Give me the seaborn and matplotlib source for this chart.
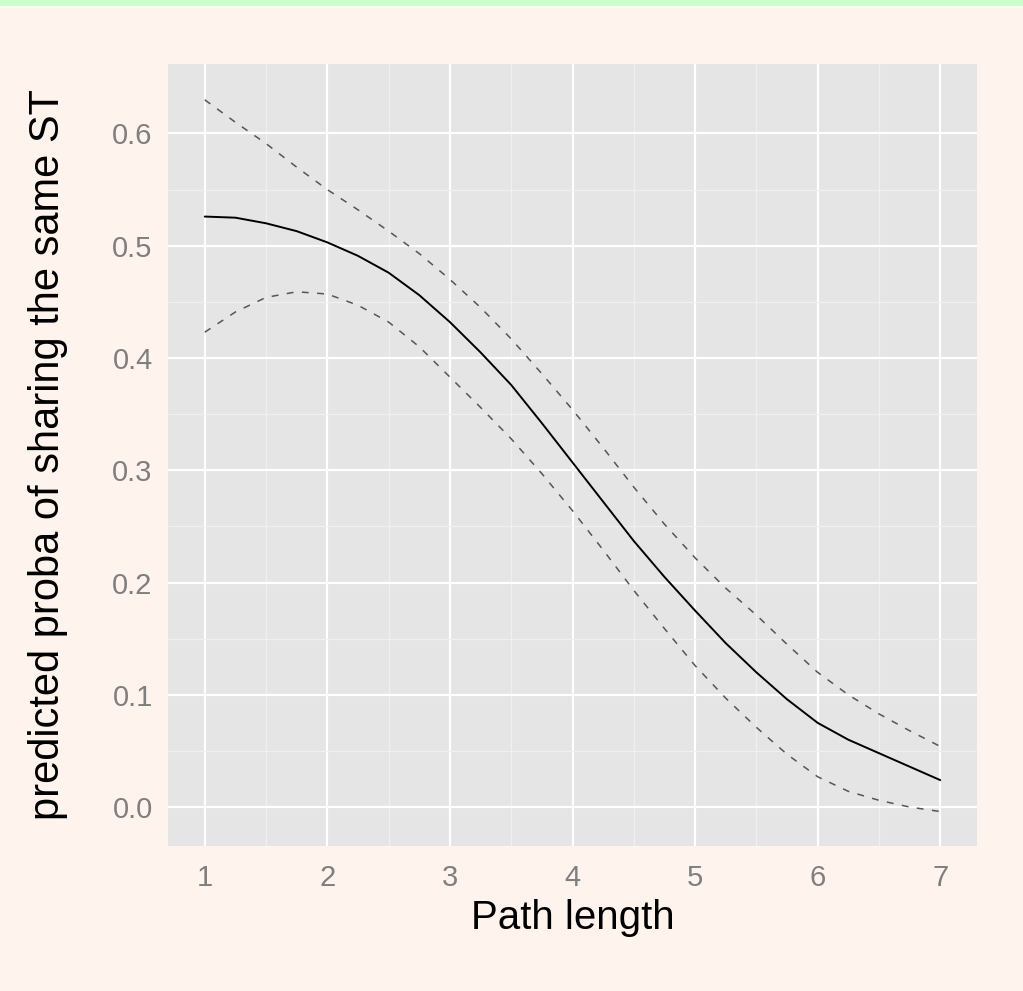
import numpy as np
import pandas as pd
import matplotlib
matplotlib.use("Agg")
import matplotlib.pyplot as plt
from matplotlib.patches import Rectangle
import seaborn as sns

# predicted probability vs path length, with confidence band
path_length = [1.0, 1.25, 1.5, 1.75, 2.0, 2.25, 2.5, 2.75, 3.0, 3.25, 3.5, 3.75, 4.0,
               4.25, 4.5, 4.75, 5.0, 5.25, 5.5, 5.75, 6.0, 6.25, 6.5, 6.75, 7.0]
pred = [0.526, 0.525, 0.520, 0.513, 0.503, 0.491, 0.476, 0.456, 0.432, 0.405, 0.376, 0.342, 0.307,
        0.272, 0.237, 0.205, 0.175, 0.146, 0.120, 0.096, 0.075, 0.060, 0.048, 0.036, 0.024]
upper = [0.630, 0.610, 0.591, 0.570, 0.550, 0.532, 0.513, 0.493, 0.470, 0.445, 0.417, 0.386, 0.354,
         0.320, 0.285, 0.252, 0.222, 0.195, 0.171, 0.145, 0.120, 0.100, 0.083, 0.068, 0.054]
lower = [0.423, 0.441, 0.454, 0.459, 0.457, 0.447, 0.432, 0.410, 0.383, 0.356, 0.328, 0.297, 0.264,
         0.229, 0.193, 0.159, 0.126, 0.097, 0.071, 0.047, 0.027, 0.014, 0.006, 0.000, -0.004]

x_ticks = [1, 2, 3, 4, 5, 6, 7]
y_ticks = [0.0, 0.1, 0.2, 0.3, 0.4, 0.5, 0.6]

df = pd.DataFrame({"x": path_length, "pred": pred, "upper": upper, "lower": lower})

sns.set_style("darkgrid")
plt.rcParams["font.family"] = ["Liberation Sans", "DejaVu Sans"]

bg = "#fff3ee"
fig = plt.figure(figsize=(10.23, 9.91), dpi=100, facecolor=bg)

# green strip on top of the page
fig.patches.append(Rectangle((0, 1 - 6 / 991), 1, 6 / 991, transform=fig.transFigure,
                             facecolor="#ccffcc", edgecolor="none", zorder=0))
fig.patches.append(Rectangle((0, 1 - 8 / 991), 1, 2 / 991, transform=fig.transFigure,
                             facecolor="#ffffff", edgecolor="none", zorder=0))

ax = fig.add_axes([168 / 1023, 1 - 846 / 991, (977 - 168) / 1023, (846 - 64) / 991])
ax.set_facecolor("#e5e5e5")

dash = (0, (4.5, 5.5))
sns.lineplot(data=df, x="x", y="upper", ax=ax, color="#555555", linewidth=1.1, linestyle=dash)
sns.lineplot(data=df, x="x", y="lower", ax=ax, color="#555555", linewidth=1.1, linestyle=dash)
sns.lineplot(data=df, x="x", y="pred", ax=ax, color="black", linewidth=1.4)

ax.set_xlim(0.7, 7.3)
ax.set_ylim(-0.0347, 0.6619)
ax.set_xticks(x_ticks)
ax.set_yticks(y_ticks)
ax.set_xticklabels([str(v) for v in x_ticks])
ax.set_yticklabels([f"{v:.1f}" for v in y_ticks])
ax.set_xticks(np.arange(1.5, 7, 1.0), minor=True)
ax.set_yticks(np.arange(0.05, 0.65, 0.1), minor=True)

ax.grid(which="major", color="white", linewidth=1.6)
ax.grid(which="minor", color="#f0f0f0", linewidth=0.9)
ax.set_axisbelow(True)

ax.tick_params(which="major", length=7, width=1.1, color="#7f7f7f", labelcolor="#7f7f7f",
               labelsize=21, pad=4)
ax.tick_params(axis="x", pad=6)
ax.tick_params(which="minor", length=0)
for s in ax.spines.values():
    s.set_visible(False)

ax.set_xlabel("Path length", fontsize=29, color="black", labelpad=5)
ax.set_ylabel("predicted proba of sharing the same ST", fontsize=30, color="black", labelpad=32)

fig.savefig("out.png", dpi=100, facecolor=bg)
